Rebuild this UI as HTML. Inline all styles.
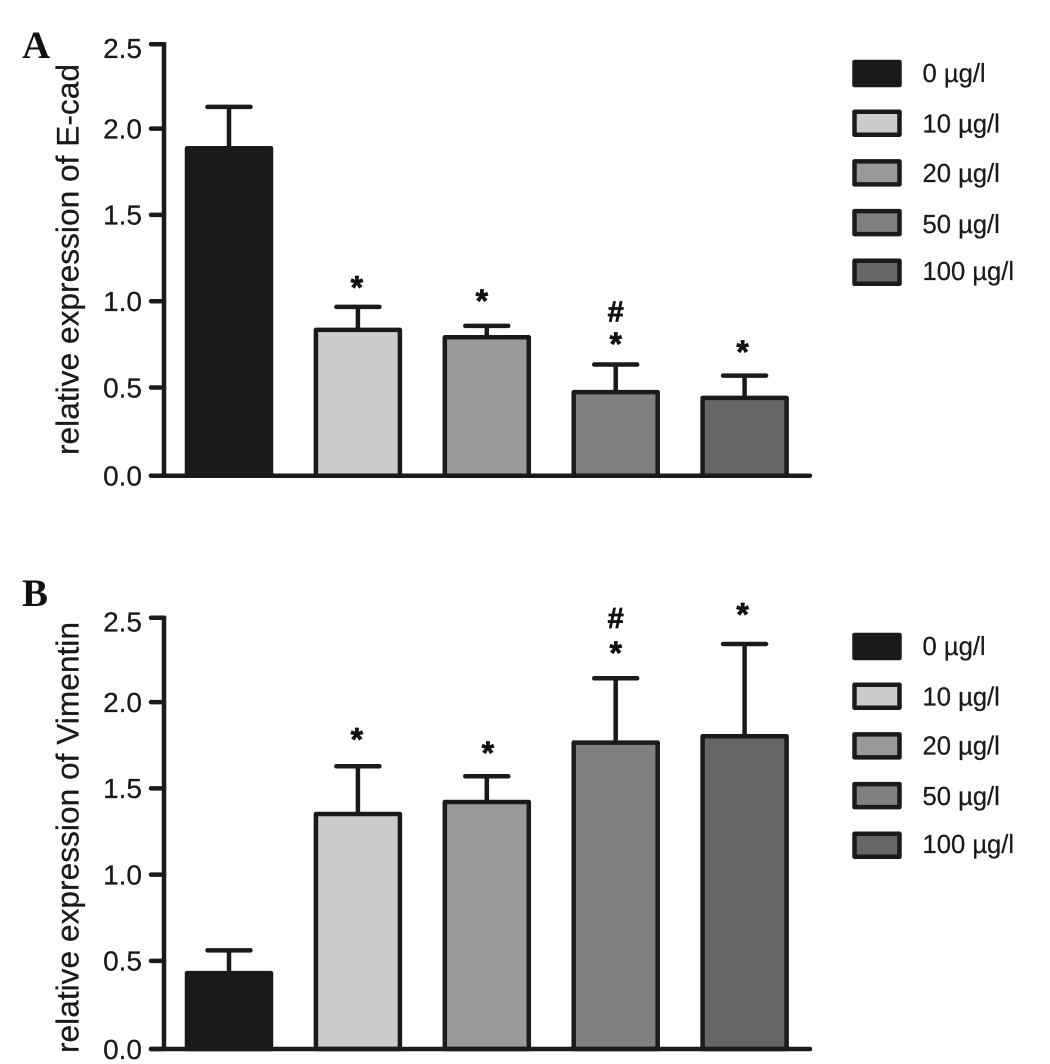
<!DOCTYPE html>
<html lang="en">
<head>
<meta charset="utf-8">
<title>Relative expression of E-cad and Vimentin</title>
<style>
html,body{margin:0;padding:0;background:#fff;width:1050px;height:1064px;overflow:hidden}
svg{display:block}
text{font-family:"Liberation Sans",sans-serif;fill:#1a1a1a}
.panel-letter{font-family:"Liberation Serif",serif;font-weight:bold;font-size:39px;fill:#111}
.tick-label{font-size:28px;text-anchor:end;stroke:#1a1a1a;stroke-width:.25px}
.axis-title{font-size:31.7px;stroke:#1a1a1a;stroke-width:.25px}
.legend-label{font-size:25.6px;stroke:#1a1a1a;stroke-width:.25px}
.sig{font-weight:bold;text-anchor:middle;fill:#111;stroke:#111;stroke-width:.7px}
</style>
</head>
<body>
<svg id="figure" xmlns="http://www.w3.org/2000/svg" width="1050" height="1064" viewBox="0 0 1050 1064"></svg>
<script>
// ---- data ----
const categories = ["0 µg/l", "10 µg/l", "20 µg/l", "50 µg/l", "100 µg/l"];
const tickLabels = ["0.0", "0.5", "1.0", "1.5", "2.0", "2.5"];
const tickValues = [0, 0.5, 1, 1.5, 2, 2.5];
const fills = ["#1a1a1a", "#cccccc", "#999999", "#808080", "#666666"];

const ecadMeans = [1.897, 0.845, 0.802, 0.484, 0.451];
const ecadUpper = [2.137, 0.978, 0.868, 0.644, 0.580];
const ecadStarLevels = [null, 1.115, 1.036, 0.785, 0.739];
const ecadHashLevels = [null, null, null, 0.941, null];

const vimentinMeans = [0.440, 1.362, 1.432, 1.776, 1.813];
const vimentinUpper = [0.572, 1.639, 1.581, 2.149, 2.348];
const vimentinStarLevels = [null, 1.816, 1.739, 2.319, 2.541];
const vimentinHashLevels = [null, null, null, 2.487, null];

// ---- layout ----
const NS = "http://www.w3.org/2000/svg";
const INK = "#1a1a1a";
const LINE = 4.5;
const root = document.getElementById("figure");

const panels = [
  {key: "a", letter: "A", letterY: 58, title: "relative expression of E-cad", titleY: 455,
   y0: 475.7, unit: 172.6, legendTop: 60,
   means: ecadMeans, upper: ecadUpper, stars: ecadStarLevels, hashes: ecadHashLevels,
   starNudge: [0, -1, -5, 0, -2], legendBase: [22, 22.7, 22.4, 23.7, 21.3]},
  {key: "b", letter: "B", letterY: 606, title: "relative expression of Vimentin", titleY: 1053,
   y0: 1049, unit: 172.5, legendTop: 633,
   means: vimentinMeans, upper: vimentinUpper, stars: vimentinStarLevels, hashes: vimentinHashLevels,
   starNudge: [0, -1, 1, 0, -2], legendBase: [22, 23, 22.3, 23, 21]}
];

function xScale(i) { return 229 + 128.9 * i; }

function el(tag, parent, attrs, txt) {
  const n = document.createElementNS(NS, tag);
  for (const k in attrs) n.setAttribute(k, attrs[k]);
  if (txt !== undefined) n.textContent = txt;
  parent.appendChild(n);
  return n;
}

function drawLine(parent, x1, y1, x2, y2, w, cap) {
  return el("line", parent, {x1: x1, y1: y1, x2: x2, y2: y2, stroke: INK, "stroke-width": w, "stroke-linecap": cap || "butt"});
}

panels.forEach(function (p) {
  const yScale = function (v) { return p.y0 - v * p.unit; };

  const g = el("g", root, {});
  
  

  const letter = el("text", g, {x: 22, y: p.letterY, class: "panel-letter"}, p.letter);
  
  

  const title = el("text", g, {class: "axis-title", transform: "translate(78.5," + p.titleY + ") rotate(-90)"}, p.title);
  
  

  // error bars
  p.means.forEach(function (m, i) {
    const eg = el("g", g, {});
    
    
    drawLine(eg, xScale(i), yScale(m), xScale(i), yScale(p.upper[i]), LINE);
    drawLine(eg, xScale(i) - 21.5, yScale(p.upper[i]), xScale(i) + 21.5, yScale(p.upper[i]), LINE, "round");
  });

  // bars
  p.means.forEach(function (m, i) {
    const bar = el("rect", g, {
      x: xScale(i) - 42, y: yScale(m), width: 84, height: yScale(0) - yScale(m),
      fill: fills[i], stroke: INK, "stroke-width": LINE, "stroke-linejoin": "round"
    });
    
    
  });

  // significance marks
  p.stars.forEach(function (level, i) {
    if (level === null) return;
    const s = el("text", g, {class: "sig", "font-size": 32, x: xScale(i) + p.starNudge[i], y: yScale(level) + 15}, "*");
    
    
  });
  p.hashes.forEach(function (level, i) {
    if (level === null) return;
    const h = el("text", g, {class: "sig", "font-size": 29, x: xScale(i), y: yScale(level) + 8}, "#");
    
    
  });

  // axes
  const yAxis = drawLine(g, 164, yScale(2.5) - 2, 164, yScale(0) + 2, LINE);
  
  
  const xAxis = drawLine(g, 151, yScale(0), 810, yScale(0), LINE, "round");
  
  

  tickValues.forEach(function (v, i) {
    const inner = v > 0 && v < 2.5;
    const tickY = yScale(v) - (inner ? 1.9 : 0);
    const t = drawLine(g, 151, tickY, 164, tickY, LINE, "round");
    
    
    const nudge = v === 2.5 ? 4 : 0;
    const lab = el("text", g, {class: "tick-label", x: 142, y: tickY + 9.8 + nudge}, tickLabels[i]);
    
    
  });

  // legend
  const lg = el("g", g, {});
  
  
  categories.forEach(function (c, i) {
    const top = p.legendTop + 49.7 * i;
    const entry = el("g", lg, {});
    
    
    const sw = el("rect", entry, {x: 854.5, y: top + 2, width: 45, height: 23, fill: fills[i], stroke: INK, "stroke-width": LINE, "stroke-linejoin": "round"});
    
    
    const tx = el("text", entry, {class: "legend-label", x: 922.5, y: top + p.legendBase[i]}, c);
    
    
  });
});
</script>
</body>
</html>
